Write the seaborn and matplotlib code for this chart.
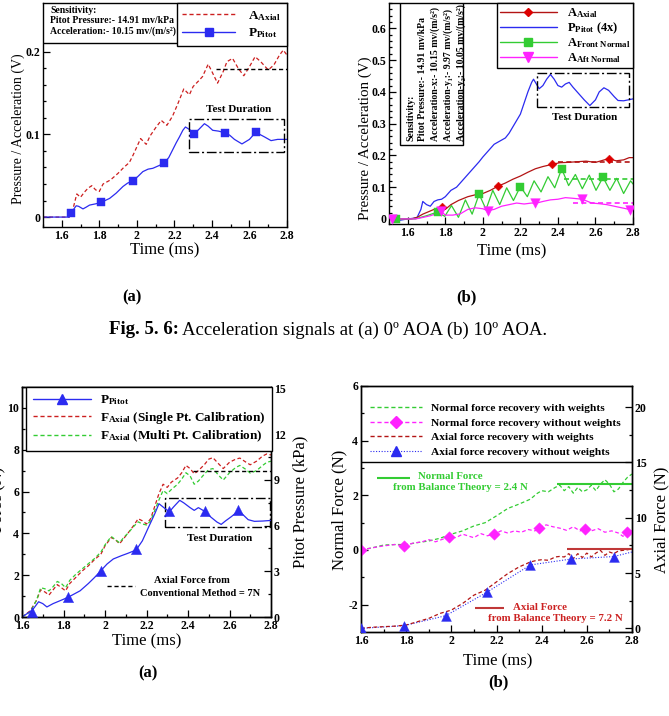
import matplotlib
matplotlib.use("Agg")
import matplotlib.pyplot as plt
import seaborn as sns
from matplotlib.lines import Line2D
from matplotlib.patches import Rectangle
from matplotlib.ticker import MultipleLocator, FuncFormatter

# ---------------- data ----------------
# Fig (a) top: 0 deg AOA
A_T_AXIAL = [1.50, 1.64, 1.66, 1.68, 1.70, 1.72, 1.74, 1.76, 1.78, 1.80, 1.82, 1.86, 1.90, 1.93,
             1.96, 1.98, 2.00, 2.02, 2.05, 2.07, 2.10, 2.13, 2.16, 2.19, 2.22, 2.25, 2.28, 2.30,
             2.33, 2.35, 2.38, 2.40, 2.43, 2.46, 2.48, 2.51, 2.54, 2.57, 2.60, 2.63, 2.66, 2.70,
             2.73, 2.76, 2.78, 2.80]
A_AXIAL = [0, 0, 0.010, 0.028, 0.024, 0.030, 0.035, 0.038, 0.033, 0.031, 0.040, 0.045, 0.053, 0.060,
           0.066, 0.075, 0.085, 0.095, 0.088, 0.098, 0.108, 0.117, 0.111, 0.122, 0.138, 0.155, 0.148, 0.158,
           0.165, 0.170, 0.185, 0.176, 0.162, 0.176, 0.188, 0.192, 0.180, 0.171, 0.182, 0.194, 0.188, 0.178,
           0.184, 0.196, 0.202, 0.196]
A_T_PITOT = [1.50, 1.64, 1.651, 1.665, 1.677, 1.69, 1.713, 1.73, 1.748, 1.78, 1.81, 1.855, 1.89, 1.926,
             1.95, 1.979, 2.005, 2.032, 2.06, 2.085, 2.115, 2.144, 2.17, 2.19, 2.21, 2.227, 2.245, 2.259,
             2.28, 2.307, 2.33, 2.36, 2.38, 2.404, 2.435, 2.47, 2.495, 2.52, 2.56, 2.60, 2.635, 2.655,
             2.68, 2.715, 2.75, 2.80]
A_PITOT = [0, 0, 0.0044, 0.010, 0.0137, 0.013, 0.0099, 0.012, 0.0145, 0.016, 0.0178, 0.0226, 0.029, 0.037,
           0.041, 0.044, 0.049, 0.055, 0.058, 0.059, 0.062, 0.065, 0.072, 0.081, 0.090, 0.097, 0.105, 0.109,
           0.106, 0.101, 0.106, 0.113, 0.110, 0.105, 0.104, 0.102, 0.099, 0.094, 0.0885, 0.094, 0.103, 0.100,
           0.097, 0.0925, 0.094, 0.094]
A_T_PITOT_MK = [1.651, 1.81, 1.979, 2.144, 2.307, 2.47, 2.635]
A_PITOT_MK = [0.0044, 0.0178, 0.044, 0.065, 0.101, 0.102, 0.103]
A_REF = 0.179
A_REF_FROM = 2.42
A_TEST_T = (2.28, 2.785)
A_TEST_V = (0.079, 0.119)

# Fig (b) top: 10 deg AOA
B_T_PITOT = [1.50, 1.56, 1.60, 1.63, 1.65, 1.67, 1.68, 1.70, 1.72, 1.74, 1.76, 1.78, 1.80, 1.83,
             1.86, 1.89, 1.92, 1.95, 1.98, 2.00, 2.03, 2.06, 2.09, 2.12, 2.14, 2.17, 2.20, 2.22,
             2.24, 2.26, 2.27, 2.29, 2.30, 2.32, 2.34, 2.36, 2.38, 2.40, 2.42, 2.44, 2.46, 2.48,
             2.51, 2.54, 2.57, 2.60, 2.62, 2.645, 2.67, 2.70, 2.72, 2.75, 2.80]
B_PITOT = [0.0, -0.004, 0.0, 0.002, 0.005, 0.03, 0.055, 0.045, 0.04, 0.055, 0.06, 0.062, 0.07, 0.09,
           0.10, 0.12, 0.14, 0.16, 0.18, 0.195, 0.215, 0.235, 0.245, 0.255, 0.27, 0.30, 0.33, 0.365,
           0.40, 0.43, 0.44, 0.42, 0.41, 0.42, 0.44, 0.455, 0.44, 0.42, 0.415, 0.425, 0.43, 0.415,
           0.395, 0.375, 0.357, 0.375, 0.40, 0.413, 0.405, 0.385, 0.373, 0.372, 0.378]
B_T_AXIAL = [1.50, 1.62, 1.65, 1.68, 1.72, 1.76, 1.78, 1.80, 1.83, 1.87, 1.92, 1.96, 2.00, 2.04,
             2.08, 2.12, 2.16, 2.20, 2.24, 2.28, 2.32, 2.37, 2.41, 2.45, 2.50, 2.55, 2.60, 2.63,
             2.67, 2.71, 2.75, 2.78, 2.80]
B_AXIAL = [0, 0, 0.005, 0.015, 0.025, 0.035, 0.038, 0.03, 0.045, 0.058, 0.07, 0.076, 0.08, 0.09,
           0.103, 0.113, 0.125, 0.135, 0.147, 0.158, 0.165, 0.172, 0.177, 0.178, 0.18, 0.182, 0.178, 0.183,
           0.19, 0.183, 0.186, 0.193, 0.193]
B_T_AXIAL_MK = [1.783, 2.08, 2.37, 2.67]
B_AXIAL_MK = [0.038, 0.104, 0.172, 0.19]
B_T_FRONT = [1.50, 1.64, 1.70, 1.76, 1.797, 1.833, 1.87, 1.907, 1.943, 1.98, 2.017, 2.053, 2.09, 2.127,
             2.163, 2.20, 2.237, 2.273, 2.31, 2.347, 2.383, 2.42, 2.457, 2.493, 2.53, 2.567, 2.603, 2.64,
             2.677, 2.713, 2.75, 2.787, 2.80]
B_FRONT = [0, 0, 0.01, 0.022, 0.008, 0.042, 0.005, 0.06, 0.015, 0.078, 0.03, 0.09, 0.045, 0.098,
           0.058, 0.102, 0.07, 0.12, 0.085, 0.133, 0.098, 0.158, 0.105, 0.14, 0.095, 0.138, 0.09, 0.131,
           0.09, 0.128, 0.08, 0.12, 0.11]
B_T_FRONT_MK = [1.537, 1.76, 1.98, 2.20, 2.42, 2.64]
B_FRONT_MK = [0, 0.022, 0.078, 0.102, 0.157, 0.131]
B_T_AFT = [1.50, 1.64, 1.66, 1.72, 1.76, 1.775, 1.80, 1.84, 1.88, 1.92, 1.96, 2.00, 2.025, 2.06,
           2.10, 2.14, 2.18, 2.22, 2.26, 2.28, 2.32, 2.36, 2.40, 2.44, 2.48, 2.53, 2.58, 2.62,
           2.66, 2.70, 2.74, 2.78, 2.80]
B_AFT = [0, 0, 0.002, 0.01, 0.018, 0.026, 0.012, 0.012, 0.016, 0.03, 0.035, 0.032, 0.026, 0.03,
         0.04, 0.045, 0.05, 0.047, 0.05, 0.049, 0.055, 0.06, 0.062, 0.067, 0.065, 0.062, 0.05, 0.048,
         0.045, 0.04, 0.035, 0.03, 0.028]
B_T_AFT_MK = [1.514, 1.775, 2.025, 2.28, 2.53, 2.785]
B_AFT_MK = [0, 0.026, 0.026, 0.049, 0.062, 0.027]
B_REFS = {"axial": (0.18, 2.40), "front": (0.125, 2.43), "aft": (0.049, 2.48)}
B_TEST_T = (2.287, 2.78)
B_TEST_V = (0.353, 0.458)

# Fig (a) bottom: force with calibrations
C_T = [1.60, 1.64, 1.67, 1.69, 1.71, 1.73, 1.75, 1.77, 1.79, 1.81, 1.83, 1.86, 1.89, 1.92,
       1.95, 1.98, 2.00, 2.03, 2.05, 2.07, 2.09, 2.11, 2.14, 2.16, 2.18, 2.20, 2.22, 2.24,
       2.26, 2.28, 2.30, 2.32, 2.35, 2.37, 2.39, 2.41, 2.43, 2.45, 2.48, 2.50, 2.52, 2.55,
       2.57, 2.60, 2.63, 2.65, 2.68, 2.70, 2.73, 2.76, 2.78, 2.80]
C_SINGLE = [0, 0.3, 0.8, 1.3, 1.2, 1.05, 1.3, 1.55, 1.4, 1.25, 1.6, 1.9, 2.2, 2.45,
            2.75, 3.0, 3.4, 3.8, 3.7, 3.5, 3.75, 4.0, 4.4, 4.7, 4.6, 4.45, 4.7, 5.3,
            5.9, 6.35, 6.2, 6.45, 6.65, 6.9, 7.25, 7.1, 6.85, 7.0, 7.3, 7.55, 7.62, 7.3,
            7.1, 7.4, 7.55, 7.6, 7.4, 7.28, 7.45, 7.7, 7.8, 7.75]
C_MULTI = [0, 0.25, 0.8, 1.4, 1.35, 1.25, 1.45, 1.7, 1.6, 1.4, 1.75, 2.05, 2.3, 2.55,
           2.8, 3.1, 3.45, 3.85, 3.7, 3.55, 3.8, 4.0, 4.35, 4.55, 4.45, 4.4, 4.6, 5.1,
           5.6, 6.05, 5.9, 6.1, 6.35, 6.6, 6.9, 6.75, 6.35, 6.5, 6.85, 7.05, 7.1, 6.75,
           6.55, 6.9, 7.15, 7.25, 7.05, 6.88, 7.0, 7.25, 7.4, 7.45]
C_T_PITOT = [1.60, 1.65, 1.68, 1.70, 1.72, 1.75, 1.78, 1.82, 1.85, 1.88, 1.92, 1.95, 1.98, 2.01,
             2.04, 2.08, 2.11, 2.15, 2.18, 2.21, 2.24, 2.26, 2.28, 2.31, 2.33, 2.36, 2.38, 2.41,
             2.43, 2.45, 2.48, 2.51, 2.54, 2.56, 2.58, 2.61, 2.64, 2.66, 2.69, 2.72, 2.76, 2.80]
C_PITOT = [0, 0.45, 1.0, 0.88, 0.66, 0.88, 1.05, 1.28, 1.5, 1.72, 2.2, 2.6, 3.04, 3.48,
           3.81, 4.03, 4.18, 4.4, 5.0, 5.9, 6.78, 7.44, 7.22, 6.9, 7.22, 7.66, 7.49, 7.18,
           7.0, 7.18, 6.94, 6.56, 6.23, 6.08, 6.3, 6.6, 6.94, 6.78, 6.39, 6.28, 6.3, 6.34]
C_T_PITOT_MK = [1.65, 1.82, 1.98, 2.15, 2.31, 2.48, 2.64]
C_PITOT_MK = [0.33, 1.34, 3.0, 4.47, 6.93, 6.93, 7.0]
C_REF = 7.0
C_REF_FROM = 2.424
C_TEST_T = (2.29, 2.797)
C_TEST_F = (4.3, 5.7)

# Fig (b) bottom: force recovery with / without weights
D_T = [1.60, 1.65, 1.70, 1.75, 1.80, 1.85, 1.90, 1.95, 2.00, 2.05, 2.10, 2.15, 2.20, 2.25,
       2.30, 2.35, 2.38, 2.40, 2.43, 2.46, 2.48, 2.50, 2.52, 2.54, 2.56, 2.58, 2.60, 2.62,
       2.64, 2.66, 2.68, 2.70, 2.72, 2.74, 2.76, 2.78, 2.80]
D_NORMAL_WT = [0, 0.08, 0.18, 0.2, 0.2, 0.27, 0.33, 0.43, 0.58, 0.7, 0.88, 1.0, 1.25, 1.52,
               1.68, 1.86, 2.07, 2.17, 2.13, 2.29, 2.37, 2.17, 2.32, 2.08, 2.29, 2.13, 2.2, 2.37,
               2.17, 2.41, 2.57, 2.41, 2.13, 2.23, 2.47, 2.66, 2.78]
D_AXIAL_WT = [0, 0.1, 0.15, 0.2, 0.3, 0.6, 0.9, 1.35, 1.65, 2.25, 3.0, 3.45, 4.2, 4.95,
              5.55, 6.0, 6.15, 6.2, 6.15, 6.45, 6.5, 6.45, 6.75, 6.3, 6.75, 6.4, 6.8, 6.45,
              6.8, 7.05, 6.6, 6.9, 6.75, 7.0, 7.05, 7.1, 7.2]
D_T_NORMAL_NOWT = [1.60, 1.65, 1.70, 1.75, 1.79, 1.83, 1.87, 1.90, 1.93, 1.97, 1.99, 2.02, 2.05, 2.08,
                   2.10, 2.13, 2.16, 2.19, 2.22, 2.25, 2.28, 2.31, 2.34, 2.37, 2.39, 2.42, 2.45, 2.48,
                   2.51, 2.54, 2.57, 2.59, 2.62, 2.65, 2.68, 2.71, 2.74, 2.76, 2.78, 2.80]
D_NORMAL_NOWT = [0, 0.08, 0.15, 0.2, 0.15, 0.25, 0.3, 0.38, 0.3, 0.42, 0.49, 0.45, 0.58, 0.5,
                 0.45, 0.6, 0.52, 0.58, 0.7, 0.62, 0.7, 0.65, 0.75, 0.7, 0.82, 0.92, 0.85, 0.8,
                 0.72, 0.85, 0.7, 0.76, 0.7, 0.78, 0.65, 0.7, 0.62, 0.5, 0.66, 0.7]
D_T_NORMAL_MK = [1.60, 1.79, 1.99, 2.19, 2.39, 2.59, 2.78]
D_NORMAL_MK = [0, 0.15, 0.49, 0.58, 0.82, 0.76, 0.66]
D_T_AXIAL_NOWT = [1.60, 1.79, 1.976, 2.157, 2.35, 2.532, 2.72, 2.80]
D_AXIAL_NOWT = [0, 0.24, 1.15, 3.26, 5.73, 6.27, 6.49, 6.9]
D_NORMAL_THEORY = (2.4, 2.467)
D_AXIAL_THEORY = (7.2, 2.511)
D_LEGEND_LINE = 3.22

RED = "#cc1f1f"
DRED = "#b31414"
BLUE = "#2b2bf0"
GREEN = "#33cc33"
MAGENTA = "#ff22ff"
DOT = (0, (3, 2))
DASHDOT = (0, (7, 2, 1.5, 2))

# ---------------- style ----------------
sns.set_style("ticks")
plt.rcParams["font.family"] = ["Liberation Serif", "DejaVu Serif"]
plt.rcParams["font.weight"] = "bold"
plt.rcParams["mathtext.fontset"] = "custom"
plt.rcParams["mathtext.rm"] = "Liberation Serif:bold"
plt.rcParams["mathtext.bf"] = "Liberation Serif:bold"
plt.rcParams["mathtext.it"] = "Liberation Serif:bold:italic"
for k in ["text.color", "axes.labelcolor", "xtick.color", "ytick.color", "axes.edgecolor"]:
    plt.rcParams[k] = "black"

W, H = 669, 716
fig = plt.figure(figsize=(W / 100, H / 100), dpi=100)
fig.patch.set_facecolor("white")


def box_axes(left, top, right, bottom):
    return fig.add_axes([left / W, 1 - bottom / H, (right - left) / W, (bottom - top) / H])


fmt = FuncFormatter(lambda v, p: f"{v:g}")


def dress(ax, which, maj, mnr, size):
    axis = ax.xaxis if which == "x" else ax.yaxis
    axis.set_major_locator(MultipleLocator(maj))
    axis.set_minor_locator(MultipleLocator(mnr))
    axis.set_major_formatter(fmt)
    ax.tick_params(axis=which, which="both", direction="in", labelsize=size, width=0.9)
    ax.tick_params(axis=which, which="major", length=5, pad=2)
    ax.tick_params(axis=which, which="minor", length=2.5)
    for s in ax.spines.values():
        s.set_linewidth(1.0)
        s.set_color("black")


def line(ax, t, v, color, ls="-", lw=0.9, z=2):
    sns.lineplot(x=t, y=v, ax=ax, color=color, linestyle=ls, linewidth=lw,
                 estimator=None, sort=False, zorder=z)


def marks(ax, t, v, color, marker, s):
    sns.scatterplot(x=t, y=v, ax=ax, color=color, marker=marker, s=s,
                    edgecolor=color, linewidth=0.3, zorder=4, legend=False)


def test_box(ax, tr, vr, label, label_y, size=8):
    ax.add_patch(Rectangle((tr[0], vr[0]), tr[1] - tr[0], vr[1] - vr[0], fill=False,
                           ec="black", lw=1.0, ls=DASHDOT, zorder=3))
    ax.text((tr[0] + tr[1]) / 2 + 0.01, label_y, label, ha="center", va="center", fontsize=size)


# ================= panel (a) top =================
ax = box_axes(43, 3, 287, 227)
line(ax, A_T_AXIAL, A_AXIAL, RED, DOT)
line(ax, A_T_PITOT, A_PITOT, BLUE)
marks(ax, A_T_PITOT_MK, A_PITOT_MK, BLUE, "s", 30)
ax.hlines(A_REF, A_REF_FROM, 2.8, colors="black", linestyles=DOT, lw=1)
test_box(ax, A_TEST_T, A_TEST_V, "Test Duration", 0.130)
ax.set_xlim(1.5, 2.8)
ax.set_ylim(-0.012, 0.259)
dress(ax, "x", 0.2, 0.1, 8.5)
dress(ax, "y", 0.1, 0.02, 8.5)
ax.set_xlabel("Time (ms)", fontsize=12, fontweight="normal")
ax.set_ylabel("Pressure / Acceleration (V)", fontsize=10, fontweight="normal")
ax.xaxis.set_label_coords(0.5, -0.07)
ax.yaxis.set_label_coords(-0.074, 0.44)
ax.add_patch(Rectangle((0, 0.821), 0.574, 0.179, transform=ax.transAxes, fill=True,
                       fc="white", ec="black", lw=1.0, zorder=5))
ax.text(0.03, 0.985, "Sensitivity:\nPitot Pressure:- 14.91 mv/kPa\nAcceleration:- 10.15 mv/(m/s²)",
        transform=ax.transAxes, ha="left", va="top", fontsize=7, linespacing=1.12, zorder=6)
hA = [Line2D([], [], color=RED, ls=DOT, lw=1),
      Line2D([], [], color=BLUE, lw=1, marker="s", ms=6, mfc=BLUE, mec=BLUE)]
leg = ax.legend(hA, [r"A$_{\mathrm{Axial}}$", r"P$_{\mathrm{Pitot}}$"], loc="upper right",
                bbox_to_anchor=(1, 1), borderaxespad=0, fancybox=False, edgecolor="black",
                framealpha=1, fontsize=9.5, handlelength=4.0, handletextpad=1.0,
                borderpad=0.45, labelspacing=0.3, numpoints=1)
leg.get_frame().set_linewidth(1.0)

# ================= panel (b) top =================
ax = box_axes(389, 3, 633, 224)
line(ax, B_T_PITOT, B_PITOT, BLUE)
line(ax, B_T_AXIAL, B_AXIAL, DRED)
line(ax, B_T_FRONT, B_FRONT, GREEN)
line(ax, B_T_AFT, B_AFT, MAGENTA)
marks(ax, B_T_AXIAL_MK, B_AXIAL_MK, "#dd0000", "D", 20)
marks(ax, B_T_FRONT_MK, B_FRONT_MK, GREEN, "s", 34)
marks(ax, B_T_AFT_MK, B_AFT_MK, MAGENTA, "v", 48)
for key, col in [("axial", DRED), ("front", GREEN), ("aft", MAGENTA)]:
    lvl, t0 = B_REFS[key]
    ax.hlines(lvl, t0, 2.8, colors=col, linestyles=DOT, lw=1.2)
test_box(ax, B_TEST_T, B_TEST_V, "Test Duration", 0.318)
ax.set_xlim(1.5, 2.8)
ax.set_ylim(-0.016, 0.68)
dress(ax, "x", 0.2, 0.1, 8.5)
dress(ax, "y", 0.1, 0.02, 8.5)
ax.set_xlabel("Time (ms)", fontsize=12, fontweight="normal")
ax.set_ylabel("Pressure / Acceleration (V)", fontsize=10.8, fontweight="normal")
ax.xaxis.set_label_coords(0.504, -0.086)
ax.yaxis.set_label_coords(-0.07, 0.39)
ax.add_patch(Rectangle((0.045, 0.357), 0.258, 0.643, transform=ax.transAxes, fill=True,
                       fc="white", ec="black", lw=1.0, zorder=5))
ax.text(0.07, 0.375, "Sensitivity:\nPitot Pressure:- 14.91 mv/kPa\n"
        "Acceleration-x:- 10.15 mv/(m/s²)\nAcceleration-y₁:- 9.97 mv/(m/s²)\n"
        "Acceleration-y₂:- 10.05 mv/(m/s²)",
        transform=ax.transAxes, ha="left", va="top", rotation=90, rotation_mode="anchor",
        fontsize=7, linespacing=1.45, zorder=6)
hB = [Line2D([], [], color=DRED, lw=1, marker="D", ms=4.5, mfc="#dd0000", mec="#dd0000"),
      Line2D([], [], color=BLUE, lw=1),
      Line2D([], [], color=GREEN, lw=1, marker="s", ms=6, mfc=GREEN, mec=GREEN),
      Line2D([], [], color=MAGENTA, lw=1, marker="v", ms=7, mfc=MAGENTA, mec=MAGENTA)]
lB = [r"A$_{\mathrm{Axial}}$", r"P$_{\mathrm{Pitot}}$ (4x)",
      r"A$_{\mathrm{Front\ Normal}}$", r"A$_{\mathrm{Aft\ Normal}}$"]
leg = ax.legend(hB, lB, loc="upper right", bbox_to_anchor=(1, 1), borderaxespad=0,
                fancybox=False, edgecolor="black", framealpha=1, fontsize=9,
                handlelength=4.5, handletextpad=0.8, borderpad=0.25, labelspacing=0.05,
                numpoints=1)
leg.get_frame().set_linewidth(1.0)

# ================= panel (a) bottom =================
ax = box_axes(22, 387, 271, 617)
ax2 = ax.twinx()
line(ax, C_T, C_SINGLE, RED, DOT)
line(ax, C_T, C_MULTI, GREEN, DOT)
line(ax2, C_T_PITOT, C_PITOT, BLUE)
marks(ax2, C_T_PITOT_MK, C_PITOT_MK, BLUE, "^", 55)
ax.hlines(C_REF, C_REF_FROM, 2.8, colors="black", linestyles=DOT, lw=1)
ax.hlines(1.48, 2.01, 2.146, colors="black", linestyles=DOT, lw=1)
ax.text(2.42, 1.73, "Axial Force from", ha="center", va="center", fontsize=7.5)
ax.text(2.46, 1.14, "Conventional Method = 7N", ha="center", va="center", fontsize=7.5)
test_box(ax, C_TEST_T, C_TEST_F, "Test Duration", 3.77)
ax.set_xlim(1.6, 2.8)
ax.set_ylim(0, 11)
ax2.set_ylim(0, 15.1)
dress(ax, "x", 0.2, 0.1, 8.5)
dress(ax, "y", 2, 1, 8.5)
dress(ax2, "y", 3, 1.5, 8.5)
ax.set_xlabel("Time (ms)", fontsize=12, fontweight="normal")
ax.set_ylabel("Force (N)", fontsize=12, fontweight="normal")
ax2.set_ylabel("Pitot Pressure (kPa)", fontsize=12, fontweight="normal")
ax.xaxis.set_label_coords(0.5, -0.07)
ax.yaxis.set_label_coords(-0.064, 0.51)
ax2.yaxis.set_label_coords(1.085, 0.5)
hC = [Line2D([], [], color=BLUE, lw=1, marker="^", ms=7.5, mfc=BLUE, mec=BLUE),
      Line2D([], [], color=RED, ls=DOT, lw=1),
      Line2D([], [], color=GREEN, ls=DOT, lw=1)]
lC = [r"P$_{\mathrm{Pitot}}$", r"F$_{\mathrm{Axial}}$ (Single Pt. Calibration)",
      r"F$_{\mathrm{Axial}}$ (Multi Pt. Calibration)"]
leg = ax2.legend(hC, lC, loc="upper left", bbox_to_anchor=(0.016, 1), borderaxespad=0,
                 fancybox=False, edgecolor="black", framealpha=1, fontsize=9.5,
                 handlelength=4.4, handletextpad=0.7, borderpad=0.5, labelspacing=0.2,
                 numpoints=1)
leg.get_frame().set_linewidth(1.0)

# ================= panel (b) bottom =================
ax = box_axes(361, 386, 632, 632)
ax2 = ax.twinx()
line(ax, D_T, D_NORMAL_WT, GREEN, DOT)
line(ax, D_T_NORMAL_NOWT, D_NORMAL_NOWT, MAGENTA, DOT)
marks(ax, D_T_NORMAL_MK, D_NORMAL_MK, MAGENTA, "D", 34)
line(ax2, D_T_AXIAL_NOWT, D_AXIAL_NOWT, BLUE, (0, (1, 1.5)), lw=0.8)
line(ax2, D_T, D_AXIAL_WT, DRED, DOT)
marks(ax2, D_T_AXIAL_NOWT[:-1], D_AXIAL_NOWT[:-1], BLUE, "^", 50)
ax.hlines(D_NORMAL_THEORY[0], D_NORMAL_THEORY[1], 2.8, colors=GREEN, lw=1.5)
ax2.hlines(D_AXIAL_THEORY[0], D_AXIAL_THEORY[1], 2.8, colors="#c03838", lw=1.5)
ax.axhline(D_LEGEND_LINE, color="black", lw=1.0)
ax.hlines(2.63, 1.669, 1.817, colors=GREEN, lw=1.5)
ax.text(1.854, 2.69, "Normal Force", color=GREEN, ha="left", va="center", fontsize=7.8)
ax.text(1.743, 2.29, "from Balance Theory = 2.4 N", color=GREEN, ha="left", va="center",
        fontsize=7.8)
ax.hlines(-2.12, 2.105, 2.231, colors="#c03838", lw=1.5)
ax.text(2.275, -2.12, "Axial Force", color="#cc2222", ha="left", va="center", fontsize=7.8)
ax.text(2.164, -2.52, "from Balance Theory = 7.2 N", color="#cc2222", ha="left", va="center",
        fontsize=7.8)
ax.set_xlim(1.6, 2.8)
ax.set_ylim(-3, 6)
ax2.set_ylim(-0.33, 21.9)
dress(ax, "x", 0.2, 0.1, 8.5)
dress(ax, "y", 2, 1, 8.5)
dress(ax2, "y", 5, 2.5, 8.5)
ax.set_xlabel("Time (ms)", fontsize=12, fontweight="normal")
ax.set_ylabel("Normal Force (N)", fontsize=12, fontweight="normal")
ax2.set_ylabel("Axial Force (N)", fontsize=12, fontweight="normal")
ax.xaxis.set_label_coords(0.504, -0.085)
ax.yaxis.set_label_coords(-0.052, 0.496)
ax2.yaxis.set_label_coords(1.078, 0.455)
hD = [Line2D([], [], color=GREEN, ls=DOT, lw=1),
      Line2D([], [], color=MAGENTA, ls=DOT, lw=1, marker="D", ms=6, mfc=MAGENTA, mec=MAGENTA),
      Line2D([], [], color=DRED, ls=DOT, lw=1),
      Line2D([], [], color=BLUE, ls=(0, (1, 1.5)), lw=0.8, marker="^", ms=7, mfc=BLUE, mec=BLUE)]
lD = ["Normal force recovery with weights", "Normal force recovery without weights",
      "Axial force recovery with weights", "Axial force recovery without weights"]
ax2.legend(hD, lD, loc="upper left", bbox_to_anchor=(0.033, 0.93), borderaxespad=0,
           frameon=False, fontsize=8.2, handlelength=4.6, handletextpad=0.8, borderpad=0,
           labelspacing=0.4, numpoints=1)

# ================= captions =================
fig.text(132 / W, 1 - 297 / H, "(a)", ha="center", va="center", fontsize=12)
fig.text(466 / W, 1 - 297 / H, "(b)", ha="center", va="center", fontsize=12)
fig.text(148 / W, 1 - 673 / H, "(a)", ha="center", va="center", fontsize=12)
fig.text(498 / W, 1 - 682 / H, "(b)", ha="center", va="center", fontsize=12)
cap1 = fig.text(109 / W, 1 - 330 / H, "Fig. 5. 6:", ha="left", va="center", fontsize=13.5)
fig.canvas.draw()
bb = cap1.get_window_extent(fig.canvas.get_renderer())
fig.text(bb.x1 / W + 3 / W, 1 - 330 / H, "Acceleration signals at (a) 0º AOA (b) 10º AOA.",
         ha="left", va="center", fontsize=13.5, fontweight="normal")

fig.savefig("out.png", dpi=100)
